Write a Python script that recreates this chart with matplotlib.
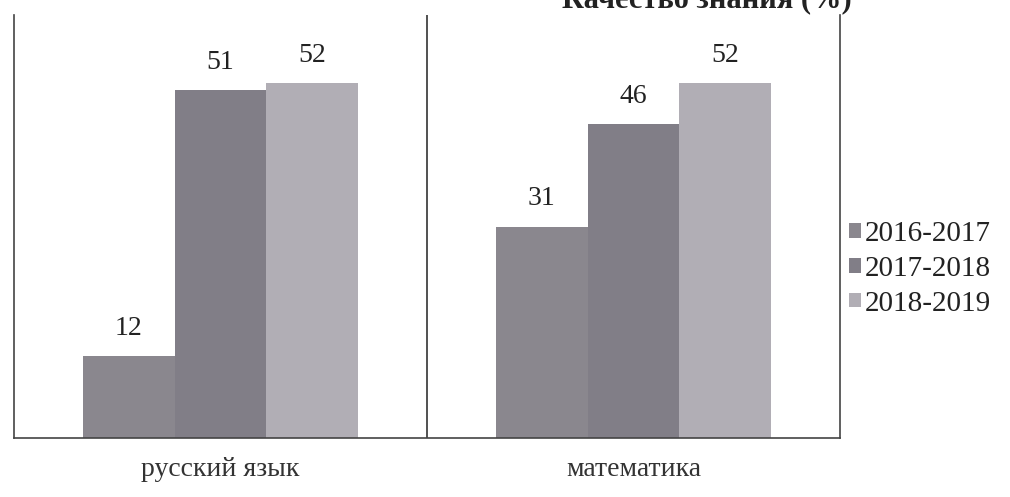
import matplotlib
matplotlib.use("Agg")
import matplotlib.pyplot as plt
import numpy as np

categories = ["русский язык", "математика"]
series_names = ["2016-2017", "2017-2018", "2018-2019"]
values_2016 = [12, 31]
values_2017 = [51, 46]
values_2018 = [52, 52]
title_text = "Качество знания (%)"

colors = ["#8a878e", "#817e87", "#b1aeb5"]
series = [values_2016, values_2017, values_2018]

plt.rcParams['font.family'] = ['Liberation Serif', 'DejaVu Serif']

fig = plt.figure(figsize=(10.10, 4.97), dpi=100)
ax = fig.add_axes([14/1010, 1 - 438/497, (840 - 14)/1010, (438 - 15)/497])

x = np.arange(len(categories))
w = 0.222
offsets = [-w, 0, w]
for vals, off, c, name in zip(series, offsets, colors, series_names):
    bars = ax.bar(x + off, vals, width=w, color=c, label=name, edgecolor='none')
    for b, v in zip(bars, vals):
        ax.text(b.get_x() + b.get_width()/2, v + 2.2, str(v), ha='center', va='bottom',
                fontsize=20, color='#222222')

ax.set_xlim(-0.5, 1.5)
ax.set_ylim(0, 62)
ax.axvline(0.5, color='#333333', lw=1.2)
ax.spines['top'].set_visible(False)
for s in ['left', 'right', 'bottom']:
    ax.spines[s].set_color('#444444')
    ax.spines[s].set_linewidth(1.2)
ax.set_yticks([])
ax.set_xticks(x)
ax.set_xticklabels(categories, fontsize=20, color='#333333')
ax.tick_params(axis='x', length=0, pad=14)

fig.text(0.70, 1.0, title_text, ha='center', va='center', fontsize=22,
         fontweight='bold', color='#222222')

leg = ax.legend(loc='center left', bbox_to_anchor=(0.997, 0.40), frameon=False,
                fontsize=21, handlelength=0.4, handleheight=0.4, handletextpad=0.15,
                labelspacing=0.3, borderaxespad=0.0)
for t in leg.get_texts():
    t.set_color('#222222')

fig.savefig("out.png", dpi=100, facecolor='white')
